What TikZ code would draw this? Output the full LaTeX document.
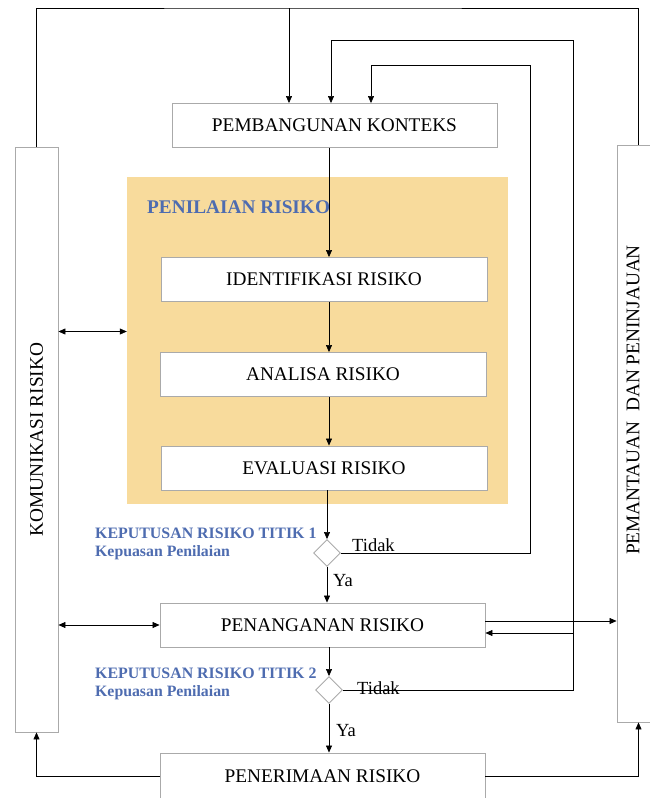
\documentclass[tikz,border=0pt]{standalone}
\usepackage{fontspec}
\setmainfont{Liberation Serif}
\usetikzlibrary{shapes.geometric,arrows.meta}
\definecolor{kuning}{RGB}{248,219,156}
\definecolor{biru}{RGB}{78,108,176}
\definecolor{abu}{RGB}{170,170,170}
\tikzstyle{kotak} = [rectangle, draw=abu, fill=white, line width=.9pt, minimum width=325pt, minimum height=44pt, font=\fontsize{19.3}{21}\selectfont]
\tikzstyle{keputusan} = [diamond, draw=abu, fill=white, line width=.9pt, minimum size=27pt, inner sep=0pt]
\tikzstyle{panah} = [-{Triangle[length=7pt,width=6pt]}, line width=.6pt]
\tikzstyle{panahdua} = [{Triangle[length=7pt,width=6pt]}-{Triangle[length=7pt,width=6pt]}, line width=.6pt]
\tikzstyle{garis} = [line width=.6pt]
\tikzstyle{judul} = [text=biru, anchor=west, inner sep=0pt, font=\bfseries\fontsize{15.9}{17}\selectfont]
\tikzstyle{teks} = [inner sep=0pt, font=\fontsize{18.5}{20}\selectfont]
\newcommand{\titik}[3]{\node [judul] (k#1) at (95,#2) {KEPUTUSAN RISIKO TITIK #1};%
	\node [judul, font=\bfseries\fontsize{15.8}{17}\selectfont] (p#1) at (95,#3) {Kepuasan Penilaian};}

\begin{document}
\begin{tikzpicture}[x=1pt,y=-1pt]%
			\useasboundingbox (0,0) rectangle (650,798);%
			% area penilaian
			\node [fill=kuning, minimum width=381pt, minimum height=327pt, inner sep=0pt] (nilai) at (317.5,340.5) {};%
			\node [judul, font=\bfseries\fontsize{19.3}{21}\selectfont] (judulnilai) at (147,207) {PENILAIAN RISIKO};%
			% kotak proses
			\node [kotak] (pk) at (334.5,125.5) {PEMBANGUNAN KONTEKS};%
			\node [kotak, minimum width=326pt] (id) at (324,279.5) {IDENTIFIKASI RISIKO};%
			\node [kotak, minimum width=326pt] (an) at (323,374.5) {ANALISA RISIKO};%
			\node [kotak, minimum width=326pt] (ev) at (324,468) {EVALUASI RISIKO};%
			\node [kotak] (pen) at (322.5,625) {PENANGANAN RISIKO};%
			\node [kotak, minimum height=47pt] (ter) at (322.5,776.5) {PENERIMAAN RISIKO};%
			% kotak samping
			\node [kotak, minimum width=43pt, minimum height=585pt] (kom) at (36.5,439.5) {};%
			\node [kotak, minimum width=43pt, minimum height=577pt] (pan) at (638.5,433.5) {};%
			\node [rotate=90, font=\fontsize{19.3}{21}\selectfont] (komteks) at (kom) {KOMUNIKASI RISIKO};%
			\node [rotate=90, font=\fontsize{19.3}{21}\selectfont] (panteks) at (633,400) {PEMANTAUAN~ DAN PENINJAUAN};%
			% titik keputusan
			\coordinate (poros) at (329,0);%
			\node [keputusan] (d1) at (327,553) {};%
			\node [keputusan] (d2) at (329,690) {};%
			\titik{1}{533}{553}%
			\titik{2}{673}{693}%
			\node [teks, anchor=west] (t1) at (352,545) {Tidak};%
			\node [teks, anchor=west] (t2) at (357,688) {Tidak};%
			\node [teks, anchor=west] (y1) at (333,581) {Ya};%
			\node [teks, anchor=west] (y2) at (336,731) {Ya};%
			% alur utama
			\draw [panah] (pk.south -| poros) -- (id.north -| poros);%
			\draw [panah] (id.south -| poros) -- (an.north -| poros);%
			\draw [panah] (an.south -| poros) -- (ev.north -| poros);%
			\draw [panah] (ev.south -| d1) -- (d1.north);%
			\draw [panah] (d1.south) -- (pen.north -| d1);%
			\draw [panah] (pen.south -| d2) -- (d2.north);%
			\draw [panah] (d2.south) -- (ter.north -| d2);%
			% umpan balik
			\coordinate (atas) at (289,8);%
			\coordinate (u1) at (530,65);%
			\coordinate (m1) at (371,65);%
			\coordinate (u2) at (573,40);%
			\coordinate (m2) at (331,40);%
			\draw [garis] (kom.north) |- (atas) -| (pan.north);%
			\draw [panah] (atas) -- (atas |- pk.north);%
			\draw [panah] (d1.east) -| (u1) -- (m1) -- (m1 |- pk.north);%
			\draw [panah] (d2.east) -| (u2) -- (m2) -- (m2 |- pk.north);%
			\path (pen.east) ++(0,-4) coordinate (pk1);%
			\path (pen.east) ++(0,8) coordinate (pk2);%
			\draw [panah] (pk1) -- (pk1 -| pan.west);%
			\draw [panah] (pk2 -| u2) -- (pk2);%
			% komunikasi
			\path (nilai.west) ++(0,-9) coordinate (n1);%
			\draw [panahdua] (n1 -| kom.east) -- (n1);%
			\draw [panahdua] (pen.west -| kom.east) -- (pen.west);%
			\draw [panah] (ter.west) -| (kom.south);%
			\draw [panah] (ter.east) -| (pan.south);%
		\end{tikzpicture}
\end{document}
